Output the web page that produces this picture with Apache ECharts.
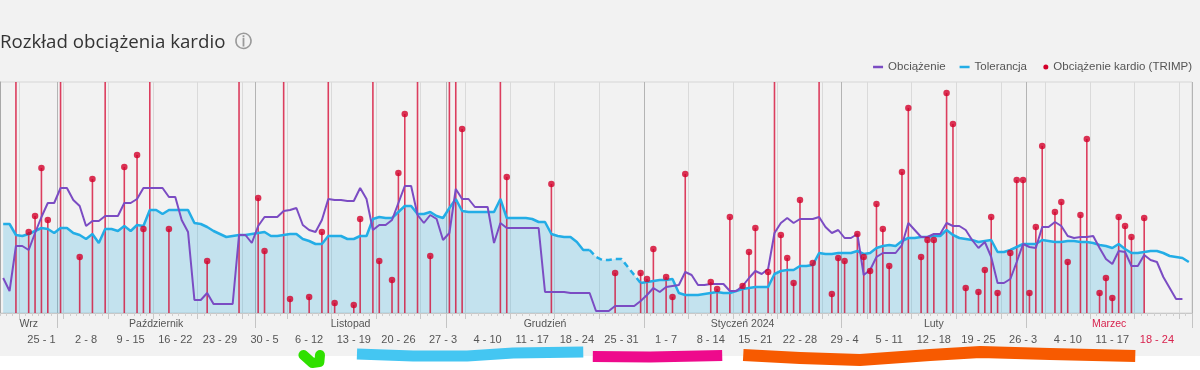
<!DOCTYPE html>
<html><head><meta charset="utf-8">
<script src="https://cdn.jsdelivr.net/npm/echarts@6/dist/echarts.min.js"></script>
<style>html,body{margin:0;padding:0;background:#f2f2f2;}#c{width:1200px;height:370px;}</style>
</head><body><div id="c"></div>
<script>
// ---- categories: one per day, 2023-09-22 .. 2024-03-26 ----
const startUTC = Date.UTC(2023, 8, 22);
const dayCount = 187;
const days = [];
for (let i = 0; i < dayCount; i++) days.push(new Date(startUTC + i * 86400000));
const dayCats = days.map(d => d.toISOString().slice(0, 10));

// ---- tick labels ----
const weekLabels = ['25 - 1','2 - 8','9 - 15','16 - 22','23 - 29','30 - 5','6 - 12','13 - 19','20 - 26','27 - 3','4 - 10','11 - 17','18 - 24','25 - 31','1 - 7','8 - 14','15 - 21','22 - 28','29 - 4','5 - 11','12 - 18','19 - 25','26 - 3','4 - 10','11 - 17','18 - 24'];
const monthLabels = ['Wrz','Październik','Listopad','Grudzień','Styczeń 2024','Luty','Marzec'];
const currentWeekLabelIndex = 25;
const currentMonthLabelIndex = 6;

// ---- series values (per day) ----
const obciazenie = [
 35,22,67,67,63,80,96,110,110,125,
 125,113,107,87,92,92,97,97,97,110,
 110,114,125,125,125,125,116,116,93,81,
 13,13,20,9,9,9,9,78,78,70,
 87,96,96,96,102,103,105,88,83,81,
 93,114,113,113,112,112,125,114,83,88,
 88,93,110,127,127,98,90,98,94,73,
 80,124,114,114,106,106,106,70,90,85,
 85,85,85,85,85,21,21,21,21,20,
 20,20,20,2,2,2,7,7,7,7,
 12,18,25,21,26,27,28,41,38,28,
 28,29,29,29,22,22,27,35,42,39,
 44,80,90,95,90,94,94,94,96,86,
 80,83,75,75,79,38,43,56,60,60,
 60,68,90,83,76,76,79,79,90,87,
 87,83,73,65,71,56,30,30,34,51,
 69,66,65,86,86,91,87,77,75,76,
 76,77,65,54,49,62,61,47,47,58,
 53,51,36,25,14,14,null
];
const tolerancja = [
 89,89,78,77,79,82,85,84,80,85,
 85,80,78,74,79,70,84,84,82,87,
 82,88,87,103,103,99,103,103,103,103,
 90,89,86,82,79,76,77,78,78,79,
 80,81,77,77,78,79,79,74,72,69,
 69,77,77,77,74,74,77,77,94,96,
 95,95,101,107,107,99,99,101,97,95,
 105,114,102,101,101,101,101,101,114,95,
 95,95,95,94,91,91,79,77,76,76,
 71,63,63,56,53,53,54,54,46,38,
 30,31,32,33,33,34,20,18,18,18,
 19,20,21,20,20,22,24,25,26,26,
 26,39,42,43,43,47,47,48,60,59,
 59,60,60,60,62,59,60,65,67,68,
 67,72,75,75,76,76,77,77,83,78,
 75,74,73,71,72,73,61,61,63,66,
 69,69,69,73,72,71,71,72,72,71,
 71,70,68,67,65,69,64,60,60,61,
 62,62,60,57,56,55,51
];
const forecastFrom = 92, forecastTo = 100;   // dashed part of Tolerancja
const lastFilledDay = 179;                   // area fill ends here
// TRIMP per activity day: [dayIndex, value]; values above the axis max run off the top
const trimpPoints = [
 [2,300],[4,81],[5,97],[6,145],[7,93],[9,300],[12,56],[14,134],[16,300],[19,146],[21,158],[22,84],[23,300],[26,84],
 [32,52],[37,300],[40,115],[41,62],[44,300],[45,14],[48,16],[50,81],[51,300],[52,10],[55,8],[56,94],[58,300],[59,52],
 [61,33],[62,140],[63,199],[65,300],[67,57],[70,300],[71,300],[72,184],[78,300],[79,136],[86,129],
 [96,40],[100,40],[101,34],[102,64],[104,36],[105,16],[107,139],[111,31],[112,24],[114,96],[116,27],[117,61],[118,85],
 [120,41],[121,300],[122,78],[123,55],[124,30],[125,113],[127,50],[128,300],[130,19],[131,55],[132,52],[134,79],[135,56],
 [136,42],[137,109],[138,84],[139,47],[141,141],[142,205],[144,56],[145,73],[146,73],[148,220],[149,189],[151,25],
 [153,21],[154,43],[155,96],[156,20],[158,60],[159,133],[160,133],[161,20],[162,86],[163,167],[165,101],[166,111],
 [167,51],[169,98],[170,174],[172,20],[173,35],[174,15],[175,96],[176,87],[177,76],[179,95]
];
const yMax = 231;

// hand-drawn annotation strokes under the axis: [day, offset]
const strokeGreen  = [[47.6,15],[49.0,23],[50.1,22],[50.2,15]];
const strokeBlue   = [[56.0,14],[64.8,16],[73.3,16],[80.5,13],[91.5,12]];
const strokePink   = [[93.0,16.5],[102.0,17],[113.3,15.5]];
const strokeOrange = [[116.6,15],[125.5,18],[134.9,20],[145.9,15],[153.8,12],[164.7,14],[178.1,16]];

// ---- derived ----
const trimpArr = new Array(dayCount).fill(null);
trimpPoints.forEach(([d, v]) => { trimpArr[d] = v; });
const trimpDots = trimpArr.map(v => (v != null && v <= yMax) ? v : null);
const tolSolid = tolerancja.map((v, i) => (i > forecastFrom && i < forecastTo) ? null : v);
const tolDashed = tolerancja.map((v, i) => (i >= forecastFrom && i <= forecastTo) ? v : null);
const tolArea = tolerancja.map((v, i) => i <= lastFilledDay ? v : null);

// week label positions: Thursdays
const weekLabelAt = {};
let wk = 0;
days.forEach((d, i) => { if (d.getUTCDay() === 4) weekLabelAt[i] = wk++; });
// month label positions: middle of visible span
const monthLabelAt = {};
let mStart = 0, mi = 0;
for (let i = 1; i <= dayCount; i++) {
  if (i === dayCount || days[i].getUTCDate() === 1) {
    const span = i - mStart;
    const idx = mStart + Math.floor((span - 1) / 2);
    monthLabelAt[idx] = { k: mi++, shift: span % 2 === 0 };
    mStart = i;
  }
}

const FONT = 'Liberation Sans, Arial, sans-serif';
const txt = '#555', red = '#d8234e';

const chart = echarts.init(document.getElementById('c'), null, { renderer: 'canvas' });
chart.setOption({
  animation: false,
  backgroundColor: '#f2f2f2',
  textStyle: { fontFamily: FONT },
  title: {
    left: 0, top: 33, padding: 0,
    text: '{t|Rozkład obciążenia kardio}  {i|ⓘ}',
    textStyle: {
      rich: {
        t: { fontFamily: 'Open Sans', fontSize: 18.7, color: '#333', fontWeight: 'normal' },
        i: { fontFamily: 'DejaVu Sans', fontSize: 17, color: '#9a9a9a' }
      }
    }
  },
  legend: [
    { data: ['Obciążenie', 'Tolerancja'], right: 173, top: 61, padding: 0, icon: 'rect',
      itemWidth: 10, itemHeight: 2.5, itemGap: 14,
      textStyle: { fontFamily: FONT, fontSize: 11.5, color: txt } },
    { data: [{ name: 'Obciążenie kardio (TRIMP)', icon: 'circle', itemStyle: { color: '#d3002a' } }],
      right: 8, top: 61, padding: 0, itemWidth: 5, itemHeight: 5,
      textStyle: { fontFamily: FONT, fontSize: 11.5, color: txt } }
  ],
  graphic: [{ type: 'rect', shape: { x: 0, y: 356, width: 1200, height: 14 }, style: { fill: '#ffffff' }, z: 0, silent: true }],
  grid: [
    { left: 0, right: 8, top: 82, height: yMax, show: true, borderColor: '#d6d6d6', borderWidth: 1, backgroundColor: 'transparent' },
    { left: 0, right: 8, top: 340, height: 30 }
  ],
  xAxis: [
    { type: 'category', gridIndex: 0, data: dayCats, boundaryGap: true, position: 'bottom',
      axisLine: { show: true, lineStyle: { color: '#c8c8c8' } },
      axisTick: { show: true, interval: 0, length: 3, lineStyle: { color: '#cfcfcf' } },
      axisLabel: { show: false },
      splitLine: { show: true, interval: (i) => days[i].getUTCDay() === 1, lineStyle: { color: '#dadada', width: 1 } } },
    { type: 'category', gridIndex: 0, data: dayCats, boundaryGap: true, position: 'bottom', offset: 0,
      axisLine: { show: false },
      axisTick: { show: true, interval: (i) => days[i].getUTCDay() === 1, length: 6, lineStyle: { color: '#c8c8c8' } },
      axisLabel: { show: true, margin: 21, interval: (i) => weekLabelAt[i] !== undefined,
        formatter: (v, i) => { const k = weekLabelAt[i]; if (k === undefined) return ''; return k === currentWeekLabelIndex ? '{r|' + weekLabels[k] + '}' : weekLabels[k]; },
        fontFamily: FONT, fontSize: 11, color: txt,
        rich: { r: { fontFamily: FONT, fontSize: 11, color: red } } },
      splitLine: { show: false } },
    { type: 'category', gridIndex: 0, data: dayCats, boundaryGap: true, position: 'bottom', offset: 0,
      axisLine: { show: false },
      axisTick: { show: true, interval: (i) => days[i].getUTCDate() === 1, length: 15, lineStyle: { color: '#c4c4c4' } },
      axisLabel: { show: true, margin: 6, interval: (i) => monthLabelAt[i] !== undefined,
        formatter: (v, i) => { const m = monthLabelAt[i]; if (!m) return ''; const s = (m.k === currentMonthLabelIndex ? 'r' : 'n') + (m.shift ? 's' : ''); return '{' + s + '|' + monthLabels[m.k] + '}'; },
        fontFamily: FONT, fontSize: 10.5, color: txt,
        rich: {
          n: { fontFamily: FONT, fontSize: 10.5, color: txt },
          ns: { fontFamily: FONT, fontSize: 10.5, color: txt, padding: [0, 0, 0, 6.4] },
          r: { fontFamily: FONT, fontSize: 10.5, color: red },
          rs: { fontFamily: FONT, fontSize: 10.5, color: red, padding: [0, 0, 0, 6.4] }
        } },
      splitLine: { show: true, interval: (i) => days[i].getUTCDate() === 1, lineStyle: { color: '#b4b4b4', width: 1 } } },
    { type: 'value', gridIndex: 1, min: 0, max: dayCount, show: false }
  ],
  yAxis: [
    { type: 'value', gridIndex: 0, min: 0, max: yMax, show: true,
      axisLine: { show: true, lineStyle: { color: '#a8a8a8' } }, axisTick: { show: false },
      axisLabel: { show: false }, splitLine: { show: false } },
    { type: 'value', gridIndex: 1, min: 0, max: 30, inverse: true, show: false }
  ],
  series: [
    { name: 'Tolerancja (obszar)', type: 'line', data: tolArea, showSymbol: false, symbol: 'none', silent: true,
      lineStyle: { width: 0, opacity: 0 }, areaStyle: { color: 'rgba(41,171,226,0.33)', origin: 'start' }, z: 1 },
    { name: 'Obciążenie kardio (TRIMP)', type: 'bar', data: trimpArr, barWidth: 1.6, barGap: '-100%',
      itemStyle: { color: 'rgba(212,0,44,0.75)' }, z: 2, clip: true },
    { name: 'Tolerancja', type: 'line', data: tolSolid, showSymbol: false, symbol: 'none',
      lineStyle: { color: '#23ade6', width: 2.5 }, itemStyle: { color: '#23ade6' }, z: 3 },
    { name: 'Tolerancja (prognoza)', type: 'line', data: tolDashed, showSymbol: false, symbol: 'none',
      lineStyle: { color: '#23ade6', width: 2.5, type: [6, 4] }, z: 3 },
    { name: 'Obciążenie', type: 'line', data: obciazenie, showSymbol: false, symbol: 'none',
      lineStyle: { color: '#7b4cc3', width: 2 }, itemStyle: { color: '#7b4cc3' }, z: 4 },
    { name: 'Obciążenie kardio (TRIMP)', type: 'scatter', data: trimpDots, symbolSize: 6.5,
      itemStyle: { color: '#d3002a' }, z: 5, clip: true },
    { type: 'line', xAxisIndex: 3, yAxisIndex: 1, data: strokeGreen, showSymbol: false, symbol: 'none', silent: true,
      lineStyle: { color: '#2fe000', width: 10, cap: 'round', join: 'round' }, z: 6 },
    { type: 'line', xAxisIndex: 3, yAxisIndex: 1, data: strokeBlue, showSymbol: false, symbol: 'none', silent: true,
      lineStyle: { color: '#44c6f2', width: 11, cap: 'butt', join: 'round' }, z: 6 },
    { type: 'line', xAxisIndex: 3, yAxisIndex: 1, data: strokePink, showSymbol: false, symbol: 'none', silent: true,
      lineStyle: { color: '#ee0a8c', width: 11, cap: 'butt', join: 'round' }, z: 6 },
    { type: 'line', xAxisIndex: 3, yAxisIndex: 1, data: strokeOrange, showSymbol: false, symbol: 'none', silent: true,
      lineStyle: { color: '#f75a00', width: 12, cap: 'butt', join: 'round' }, z: 6 }
  ]
});
</script></body></html>
